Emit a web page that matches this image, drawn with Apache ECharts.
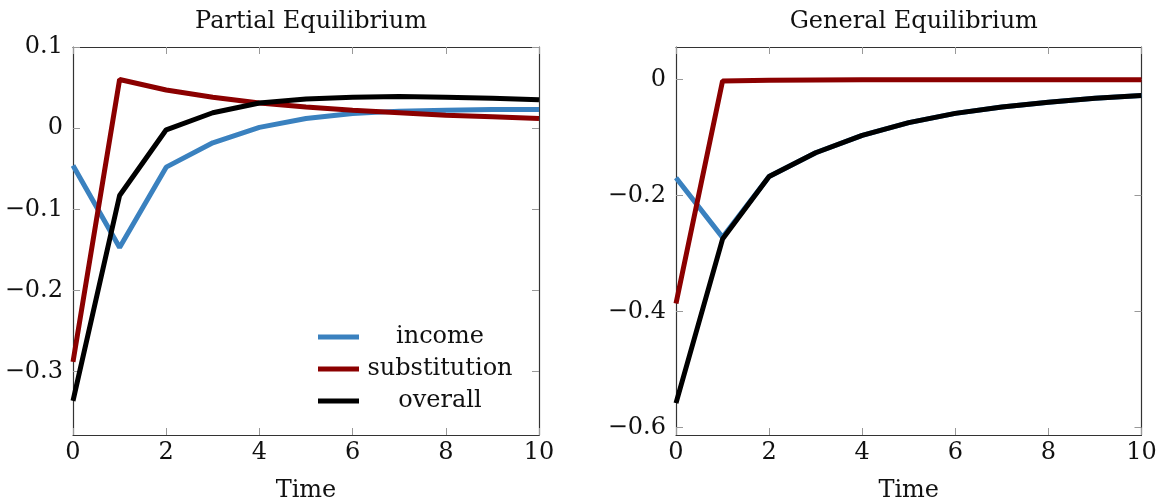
<!DOCTYPE html>
<html>
<head>
<meta charset="utf-8">
<script src="https://cdn.jsdelivr.net/npm/echarts@6/dist/echarts.min.js"></script>
<style>
html,body{margin:0;padding:0;background:#fff;}
#chart{width:1158px;height:504px;}
</style>
</head>
<body>
<div id="chart"></div>
<script>
const time = [0, 1, 2, 3, 4, 5, 6, 7, 8, 9, 10];
const peIncome       = [-0.046, -0.147, -0.048, -0.018, 0.001, 0.012, 0.018, 0.021, 0.022, 0.023, 0.023];
const peSubstitution = [-0.288, 0.060, 0.047, 0.038, 0.031, 0.026, 0.022, 0.019, 0.016, 0.014, 0.012];
const peOverall      = [-0.336, -0.083, -0.002, 0.019, 0.031, 0.036, 0.038, 0.039, 0.038, 0.037, 0.035];
const geIncome       = [-0.169, -0.272, -0.167, -0.126, -0.096, -0.074, -0.058, -0.047, -0.039, -0.032, -0.027];
const geSubstitution = [-0.386, -0.002, -0.001, -0.0005, 0, 0, 0, 0, 0, 0, 0];
const geOverall      = [-0.558, -0.275, -0.167, -0.126, -0.096, -0.074, -0.058, -0.047, -0.039, -0.032, -0.027];
const xTicks = [0, 2, 4, 6, 8, 10];
const peYTicks = [-0.3, -0.2, -0.1, 0, 0.1];
const geYTicks = [-0.6, -0.4, -0.2, 0];
const titles = ['Partial Equilibrium', 'General Equilibrium'];
const names = ['income', 'substitution', 'overall'];

const FONT = 'DejaVu Serif';
const FS = 24;
const colors = {income: '#3a81bf', substitution: '#8b0000', overall: '#000000'};
const fmt = v => (Math.round(v * 10) / 10).toString().replace('-', '\u2212');

const chart = echarts.init(document.getElementById('chart'));

const grids = [
  {left: 73, top: 47, width: 466, height: 388, containLabel: false, outerBoundsMode: 'none'},
  {left: 676, top: 47, width: 465.5, height: 388, containLabel: false, outerBoundsMode: 'none'}
];
const yRanges = [[-0.378, 0.1], [-0.613, 0.0565]];
const yTickSets = [peYTicks, geYTicks];

const tickStyle = {show: true, inside: true, length: 7, lineStyle: {color: '#999', width: 1}};
const lineStyle = {show: true, onZero: false, lineStyle: {color: '#333', width: 1.2}};

const xAxes = [], yAxes = [];
[0, 1].forEach(g => {
  xAxes.push({
    type: 'value', gridIndex: g, min: 0, max: 10, position: 'bottom',
    axisLine: lineStyle,
    axisTick: Object.assign({}, tickStyle, {customValues: xTicks}),
    axisLabel: {customValues: xTicks, fontFamily: FONT, fontSize: FS, color: '#111', margin: 6},
    splitLine: {show: false},
    name: 'Time', nameLocation: 'middle', nameGap: 44,
    nameTextStyle: {fontFamily: FONT, fontSize: FS, color: '#111'}
  });
});
[0, 1].forEach(g => {
  xAxes.push({
    type: 'value', gridIndex: g, min: 0, max: 10, position: 'top',
    axisLine: lineStyle,
    axisTick: Object.assign({}, tickStyle, {customValues: xTicks}),
    axisLabel: {show: false, customValues: xTicks},
    splitLine: {show: false}
  });
});
[0, 1].forEach(g => {
  yAxes.push({
    type: 'value', gridIndex: g, min: yRanges[g][0], max: yRanges[g][1], position: 'left',
    axisLine: lineStyle,
    axisTick: Object.assign({}, tickStyle, {customValues: yTickSets[g]}),
    axisLabel: {customValues: yTickSets[g], formatter: fmt, fontFamily: FONT, fontSize: FS, color: '#111', margin: 10},
    splitLine: {show: false}
  });
});
[0, 1].forEach(g => {
  yAxes.push({
    type: 'value', gridIndex: g, min: yRanges[g][0], max: yRanges[g][1], position: 'right',
    axisLine: lineStyle,
    axisTick: Object.assign({}, tickStyle, {customValues: yTickSets[g]}),
    axisLabel: {show: false, customValues: yTickSets[g]},
    splitLine: {show: false}
  });
});

const dataSets = [
  {income: peIncome, substitution: peSubstitution, overall: peOverall},
  {income: geIncome, substitution: geSubstitution, overall: geOverall}
];
const series = [];
[0, 1].forEach(g => {
  names.forEach(n => {
    series.push({
      name: n, type: 'line', xAxisIndex: g, yAxisIndex: g,
      data: time.map((t, i) => [t, dataSets[g][n][i]]),
      showSymbol: false, symbol: 'none',
      lineStyle: {color: colors[n], width: 5},
      itemStyle: {color: colors[n]},
      animation: false
    });
  });
});

chart.setOption({
  animation: false,
  title: titles.map((t, g) => ({
    text: t,
    left: grids[g].left + grids[g].width / 2,
    textAlign: 'center',
    top: 5,
    textStyle: {fontFamily: FONT, fontSize: FS, fontWeight: 'normal', color: '#111'}
  })),
  grid: grids,
  xAxis: xAxes,
  yAxis: yAxes,
  legend: {
    data: names,
    orient: 'vertical',
    left: 313, top: 320,
    icon: 'rect',
    itemWidth: 41, itemHeight: 5,
    itemGap: 8,
    selectedMode: false,
    formatter: n => '{a|' + n + '}',
    textStyle: {
      fontFamily: FONT, fontSize: FS, color: '#111',
      rich: {a: {width: 152, align: 'center', fontFamily: FONT, fontSize: FS, color: '#111', lineHeight: 26}}
    }
  },
  series: series
});
</script>
</body>
</html>
